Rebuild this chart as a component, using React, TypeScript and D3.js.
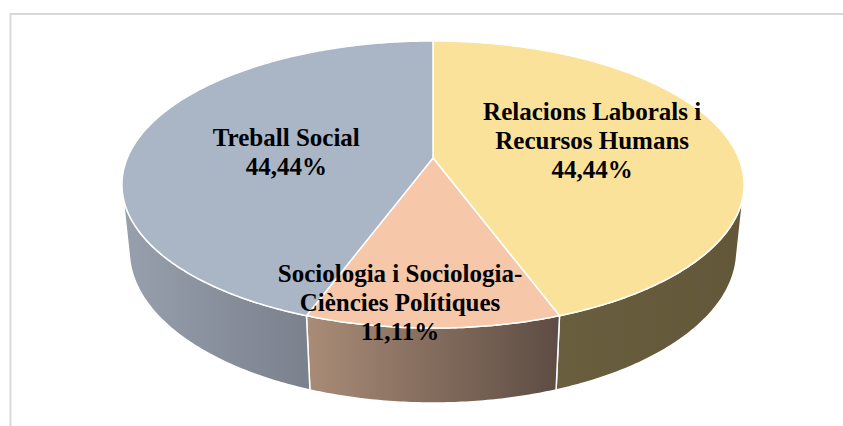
import * as d3 from 'd3';

// chart data
const categories = ['Relacions Laborals i Recursos Humans', 'Sociologia i Sociologia-Ciències Polítiques', 'Treball Social'];
const values = [4, 1, 4];
const labelLines = [
  ['Relacions Laborals i', 'Recursos Humans'],
  ['Sociologia i Sociologia-', 'Ciències Polítiques'],
  ['Treball Social'],
];
const topColors = ['#FBE29A', '#F6C7A9', '#AAB5C5'];
const sideColors = [
  ['#695E3E', '#625738'],
  ['#A98C77', '#5D4C43'],
  ['#98A0AE', '#7A808C'],
];

const W = 843, H = 426;
// simple perspective camera looking down on the disc
const cx = 433, cy = 158;
const F = 1475, D = 4.825, phi = Math.atan(0.509);
const s = Math.sin(phi), c = Math.cos(phi);
const depthH = 0.245;
const labelR = [0.5, 0.88, 0.55];
const labelShift = [[11, -6], [-33, -2], [16, 7]];

function project(X: number, Y: number, Z: number): [number, number] {
  const depth = D - Y * s - Z * c;
  const up = Y * c - Z * s;
  return [cx + (X / depth) * F, cy - (up / depth) * F];
}
const onDisc = (a: number, r: number, Y: number) => project(r * Math.sin(a), Y, -r * Math.cos(a));

function arcPts(a0: number, a1: number, Y: number) {
  const n = Math.max(2, Math.ceil(Math.abs(a1 - a0) / 0.01));
  return d3.range(n + 1).map(i => onDisc(a0 + ((a1 - a0) * i) / n, 1, Y));
}

const fmt = (v: number) => d3.format('.2%')(v).replace('.', ',');

export default function App() {
  const total = d3.sum(values);
  const arcs = d3.pie<number>().sort(null).startAngle(0).endAngle(2 * Math.PI)(values);
  const line = d3.line();
  const k = Math.acos(-1 / (D * c));
  const visLo = k, visHi = 2 * Math.PI - k;

  const sides = arcs.map((a, i) => {
    const a0 = Math.max(a.startAngle, visLo), a1 = Math.min(a.endAngle, visHi);
    if (a1 <= a0) return null;
    const pts = [...arcPts(a0, a1, 0), ...arcPts(a1, a0, -depthH)];
    const xs = d3.extent(pts, p => p[0]) as [number, number];
    return { i, d: line(pts) + 'Z', x1: xs[0], x2: xs[1] };
  }).filter(Boolean) as { i: number; d: string; x1: number; x2: number }[];

  const tops = arcs.map((a, i) => {
    const pts = [project(0, 0, 0), ...arcPts(a.startAngle, a.endAngle, 0)];
    return { i, d: line(pts) + 'Z' };
  });

  return (
    <svg width={W} height={H} style={{ position: 'absolute', left: 0, top: 0, display: 'block' }}>
      <defs>
        {sides.map(sd => (
          <linearGradient key={sd.i} id={`side${sd.i}`} gradientUnits="userSpaceOnUse" x1={sd.x1} x2={sd.x2} y1={0} y2={0}>
            <stop offset="0" stopColor={sideColors[sd.i][0]} />
            <stop offset="1" stopColor={sideColors[sd.i][1]} />
          </linearGradient>
        ))}
      </defs>
      <rect x={0} y={0} width={W} height={H} fill="#fff" />
      <rect x={10.5} y={14} width={W + 20} height={H + 20} fill="none" stroke="#D9D9D9" strokeWidth={2} />
      {sides.map(sd => (
        <path key={sd.i} d={sd.d} fill={`url(#side${sd.i})`} stroke="#fff" strokeWidth={1.5} strokeLinejoin="round" />
      ))}
      {tops.map(t => (
        <path key={t.i} d={t.d} fill={topColors[t.i]} stroke="#fff" strokeWidth={1.5} strokeLinejoin="round" />
      ))}
      {arcs.map((a, i) => {
        const mid = (a.startAngle + a.endAngle) / 2;
        const [px, py] = onDisc(mid, labelR[i], 0);
        const lx = px + labelShift[i][0], ly = py + labelShift[i][1];
        const lines = [...labelLines[i], fmt(values[i] / total)];
        const lh = 29;
        const y0 = ly - ((lines.length - 1) * lh) / 2;
        return (
          <text key={categories[i]} x={lx} y={y0} textAnchor="middle" dominantBaseline="central"
            fontFamily="'Liberation Serif', 'Times New Roman', serif" fontWeight="bold" fontSize={25} fill="#000">
            {lines.map((t, j) => (
              <tspan key={j} x={lx} y={y0 + j * lh}>{t}</tspan>
            ))}
          </text>
        );
      })}
    </svg>
  );
}
